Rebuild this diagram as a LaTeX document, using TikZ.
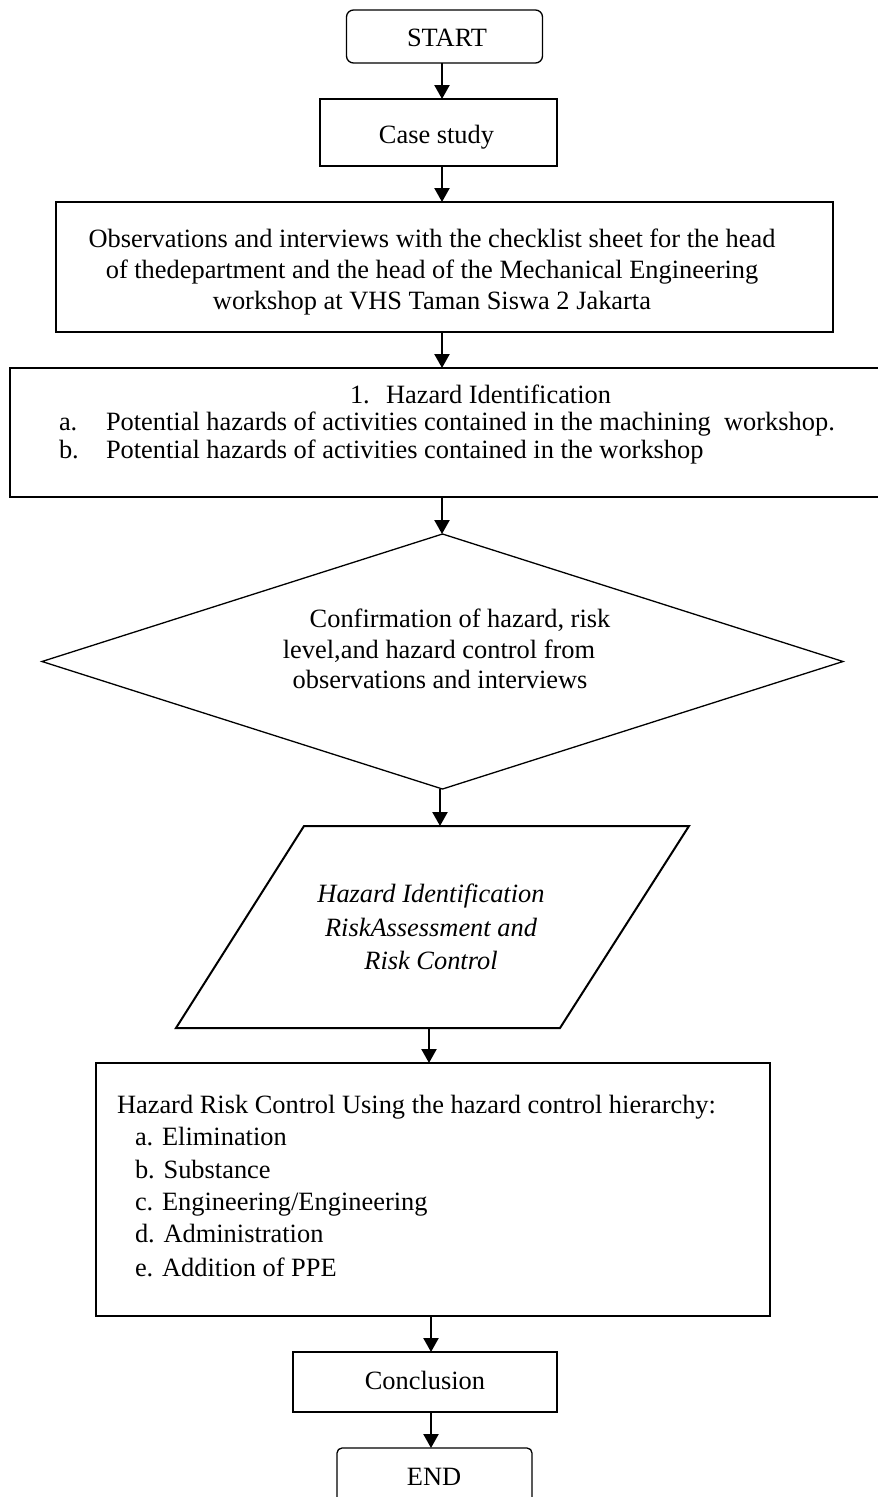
\documentclass[tikz,border=0pt]{standalone}
\usepackage{fontspec}
\setmainfont{Liberation Serif}
\usetikzlibrary{arrows.meta,shapes.geometric}
\begin{document}
\begin{tikzpicture}[x=1pt,y=-1pt,
  box/.style={draw, line width=2pt, inner sep=0pt, outer sep=0pt},
  term/.style={draw, line width=1.3pt, rounded corners=7pt, inner sep=0pt, outer sep=0pt},
  txt/.style={inner sep=0pt, outer sep=0pt, font=\fontsize{26.4}{30}\selectfont},
  arr/.style={line width=2.3pt, -{Triangle[width=15pt,length=14pt]}},
]
\useasboundingbox (0,0) rectangle (878,1497);

% shapes
\node[term, minimum width=196pt, minimum height=53pt] (start) at (444.5,36.5) {};
\node[box, minimum width=237pt, minimum height=67pt] (case) at (438.5,132.5) {};
\node[box, minimum width=777pt, minimum height=130pt] (obs) at (444.5,267) {};
\node[box, minimum width=900pt, minimum height=129pt] (hid) at (460,432.5) {};
\node[diamond, draw, line width=1.3pt, inner sep=0pt, outer sep=0pt,
      minimum width=801pt, minimum height=255pt] (dia) at (442.5,661.5) {};
\coordinate (pTL) at (304,826);
\coordinate (pTR) at (689,826);
\coordinate (pBR) at (560,1028);
\coordinate (pBL) at (176,1028);
\draw[line width=2pt, line join=miter] (pTL) -- (pTR) -- (pBR) -- (pBL) -- cycle;
\coordinate (parT) at (440,826);
\coordinate (parB) at (429,1028);
\node[box, minimum width=674pt, minimum height=253pt] (hrc) at (433,1189.5) {};
\node[box, minimum width=264pt, minimum height=60pt] (conc) at (425,1382) {};
\node[term, rounded corners=5pt, minimum width=195pt, minimum height=82pt] (end) at (434.5,1489) {};

% columns of the connectors
\coordinate (cA) at (442,0);
\coordinate (cB) at (440,0);
\coordinate (cC) at (429,0);
\coordinate (cD) at (431,0);

% connectors
\draw[arr] (start.south -| cA) -- (case.north -| cA);
\draw[arr] (case.south -| cA) -- (obs.north -| cA);
\draw[arr] (obs.south -| cA) -- (hid.north -| cA);
\draw[arr] (hid.south -| cA) -- (dia.north -| cA);
\draw[arr] (dia.south -| cB) -- (parT);
\draw[arr] (parB) -- (hrc.north -| cC);
\draw[arr] (hrc.south -| cD) -- (conc.north -| cD);
\draw[arr] (conc.south -| cD) -- (end.north -| cD);

% texts
\node[txt, anchor=base] (tstart) at (447,46.7) {START};
\node[txt, anchor=base] (tcase) at (436.5,143) {Case study};

\node[txt, anchor=base] (tobs1) at (432,247) {Observations and interviews with the checklist sheet for the head};
\node[txt, anchor=base] (tobs2) at (432,278) {of thedepartment and the head of the Mechanical Engineering};
\node[txt, anchor=base] (tobs3) at (432,309) {workshop at VHS Taman Siswa 2 Jakarta};

\node[txt, anchor=base west] (thid0n) at (350,403) {1.};
\node[txt, anchor=base west] (thid0) at (386,403) {Hazard Identification};
\node[txt, anchor=base west] (thid1n) at (59,430) {a.};
\node[txt, anchor=base west] (thid1) at (106,430) {Potential hazards of activities contained in the machining\ \ workshop.};
\node[txt, anchor=base west] (thid2n) at (59,458) {b.};
\node[txt, anchor=base west] (thid2) at (106,458) {Potential hazards of activities contained in the workshop};

\node[txt, anchor=base] (tdia1) at (460,627) {Confirmation of hazard, risk};
\node[txt, anchor=base] (tdia2) at (439,658) {level,and hazard control from};
\node[txt, anchor=base] (tdia3) at (440,688) {observations and interviews};

\node[txt, anchor=base] (tpar1) at (431,902) {\itshape Hazard Identification};
\node[txt, anchor=base] (tpar2) at (431,936) {\itshape RiskAssessment and};
\node[txt, anchor=base] (tpar3) at (431,969) {\itshape Risk Control};

\node[txt, anchor=base west] (thrc0) at (117,1113) {Hazard Risk Control Using the hazard control hierarchy:};
\node[txt, anchor=base west] (thrc1) at (135,1145) {a. Elimination};
\node[txt, anchor=base west] (thrc2) at (135,1178) {b. Substance};
\node[txt, anchor=base west] (thrc3) at (135,1210) {c. Engineering/Engineering};
\node[txt, anchor=base west] (thrc4) at (135,1242) {d. Administration};
\node[txt, anchor=base west] (thrc5) at (135,1276) {e. Addition of PPE};

\node[txt, anchor=base] (tconc) at (425,1389) {Conclusion};
\node[txt, anchor=base] (tend) at (434,1485) {END};
\end{tikzpicture}
\end{document}
